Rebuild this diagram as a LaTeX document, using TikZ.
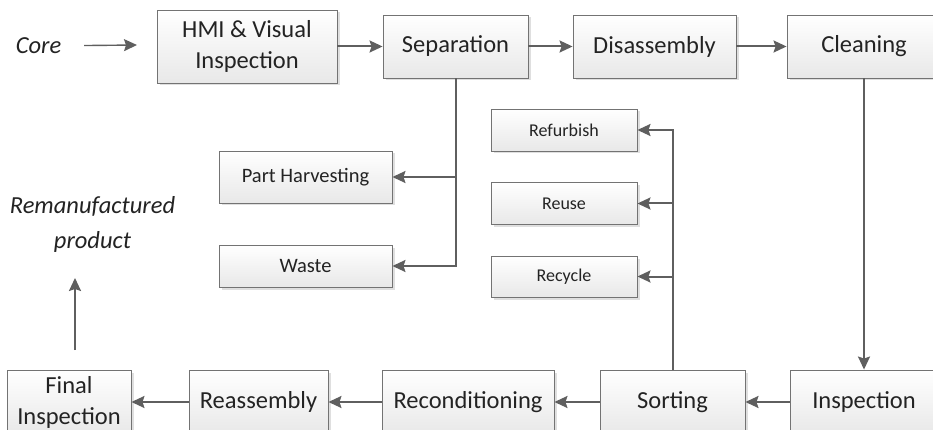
\documentclass[tikz,border=0pt]{standalone}
\usepackage{fontspec}
\setmainfont{Carlito}
\usetikzlibrary{arrows.meta,shadows}
\definecolor{box_gray}{RGB}{115,115,115}
\definecolor{fill_gray}{RGB}{232,232,232}
\definecolor{edge_gray}{RGB}{95,95,95}
\definecolor{text_gray}{RGB}{35,35,35}

\begin{document}
\begin{tikzpicture}[->,>={Stealth[length=13pt,width=12pt,inset=2pt]},x=1pt,y=-1pt,line width=2pt]
    \tikzstyle{stage}=[draw=box_gray, line width=0.9pt, rectangle, top color=white, bottom color=fill_gray,
                       drop shadow={shadow xshift=2.5pt,shadow yshift=-2.5pt,fill=black!25,opacity=0.5},
                       text=text_gray, inner sep=0pt, align=center, font=\fontsize{24.5}{31}\selectfont]
    \tikzstyle{small}=[stage, font=\fontsize{18}{21}\selectfont]
    \tikzstyle{mid}=[stage, font=\fontsize{20.5}{24}\selectfont]
    \tikzstyle{endtext}=[text=text_gray, align=center, inner sep=0pt, font=\fontsize{24.5}{35}\selectfont\itshape]
    \tikzstyle{flow}=[draw=edge_gray]

    \useasboundingbox (0,0) rectangle (933,430);

    % top row
    \node[endtext] (core) at (38.5,46)  {Core};
    \node[stage, minimum width=180, minimum height=73] (hmi) at (247,46.5)   {HMI \& Visual\\Inspection};
    \node[stage, minimum width=145, minimum height=63] (sep) at (455.5,46.5) {Separation};
    \node[stage, minimum width=163, minimum height=63] (dis) at (654.5,46.5) {Disassembly};
    \node[stage, minimum width=154, minimum height=63] (cln) at (864,46.5)   {Cleaning};

    % side branches
    \node[mid,   minimum width=173, minimum height=52] (part)  at (305.5,177)   {Part Harvesting};
    \node[mid,   minimum width=173, minimum height=42] (waste) at (305.5,266)   {Waste};
    \node[small, minimum width=146, minimum height=42] (refb)  at (564,130)     {Refurbish};
    \node[small, minimum width=146, minimum height=42] (reuse) at (564,203.5)   {Reuse};
    \node[small, minimum width=146, minimum height=41] (recy)  at (564,276.5)   {Recycle};

    % bottom row
    \node[stage, minimum width=124, minimum height=64] (final)  at (69,402)    {Final\\Inspection};
    \node[stage, minimum width=139, minimum height=64] (reass)  at (258.5,402) {Reassembly};
    \node[stage, minimum width=172, minimum height=64] (recond) at (468,402)   {Reconditioning};
    \node[stage, minimum width=145, minimum height=64] (sort)   at (672.5,402) {Sorting};
    \node[stage, minimum width=148, minimum height=64] (insp)   at (864,402)   {Inspection};

    \node[endtext] (remp) at (92.5,224) {Remanufactured\\product};
    \coordinate (core_tip) at (137,45);
    \coordinate (remp_base) at (75,350);

    \path
     (core)  edge[flow, line width=1.4pt, shorten <=22pt] (core_tip)
     (hmi)   edge[flow] (sep)
     (sep)   edge[flow] (dis)
     (dis)   edge[flow] (cln)
     (cln)   edge[flow] (insp)
     (insp)  edge[flow] (sort)
     (sort)  edge[flow] (recond)
     (recond) edge[flow] (reass)
     (reass) edge[flow] (final)
     (remp_base) edge[flow, shorten >=25pt] (remp.south -| remp_base)
     ;
    \draw[flow] (sep.south) |- (part);
    \draw[flow] (sep.south) |- (waste);
    \draw[flow] (sort.north) |- (refb);
    \draw[flow] (sort.north) |- (reuse);
    \draw[flow] (sort.north) |- (recy);
  \end{tikzpicture}
\end{document}
